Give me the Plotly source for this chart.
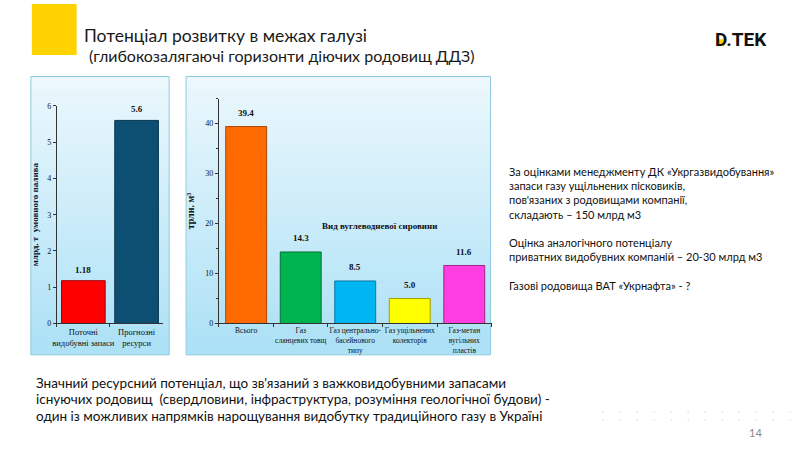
import plotly.graph_objects as go

# left chart: reserves, bn t of fuel equivalent
res_cats = ["Поточні<br>видобувні запаси", "Прогнозні<br>ресурси"]
res_vals = [1.18, 5.6]
res_labels = ["1.18", "5.6"]
res_colors = ["#ff0000", "#0d4f73"]
res_edges = ["#a00000", "#08344c"]

# right chart: gas resources by type, trn m3
gas_cats = ["Всього", "Газ<br>сланцевих товщ", "Газ центрально-<br>басейнового<br>типу",
            "Газ ущільнених<br>колекторів", "Газ-метан<br>вугільних<br>пластів"]
gas_vals = [39.4, 14.3, 8.5, 5.0, 11.6]
gas_labels = ["39.4", "14.3", "8.5", "5.0", "11.6"]
gas_colors = ["#ff6a00", "#00b44f", "#00b6f2", "#ffff00", "#ff3de0"]
gas_edges = ["#a84600", "#00713a", "#0078a0", "#a0a000", "#a0208c"]

notes = [
    "За оцінками менеджменту ДК «Укргазвидобування»",
    "запаси газу ущільнених пісковиків,",
    "пов'язаних з родовищами компанії,",
    "складають – 150 млрд м3",
    "",
    "Оцінка аналогічного потенціалу",
    "приватних видобувних компаній – 20-30 млрд м3",
    "",
    "Газові родовища ВАТ «Укрнафта» - ?",
]
bottom_text = [
    "Значний ресурсний потенціал, що зв'язаний з важковидобувними запасами",
    "існуючих родовищ  (свердловини, інфраструктура, розуміння геологічної будови) -",
    "один із можливих напрямків нарощування видобутку традиційного газу в Україні",
]

W, H = 800, 449
SERIF = "Liberation Serif"
SANS = "Lato"


def px(x):
    return x / W


def py(y):
    return 1 - y / H


fig = go.Figure()
fig.add_trace(go.Bar(x=res_cats, y=res_vals, width=0.82,
                     marker=dict(color=res_colors, line=dict(color=res_edges, width=1)),
                     xaxis="x", yaxis="y", hoverinfo="skip"))
fig.add_trace(go.Bar(x=gas_cats, y=gas_vals, width=0.75,
                     marker=dict(color=gas_colors, line=dict(color=gas_edges, width=1)),
                     xaxis="x2", yaxis="y2", hoverinfo="skip"))

shapes = []
annotations = []


def note(x, y, text, font, xanchor="left"):
    annotations.append(dict(x=px(x), y=py(y), xref="paper", yref="paper", text=text,
                            xanchor=xanchor, yanchor="middle", showarrow=False, font=font))


# panel backgrounds with a vertical gradient
def panel(x0, x1, y0, y1):
    n = 40
    top = (236, 248, 253)
    bot = (172, 225, 246)
    for i in range(n):
        t = i / (n - 1)
        c = tuple(int(top[k] + (bot[k] - top[k]) * t) for k in range(3))
        ya = y0 + (y1 - y0) * i / n
        yb = y0 + (y1 - y0) * (i + 1) / n
        shapes.append(dict(type="rect", xref="paper", yref="paper", layer="below",
                           x0=px(x0), x1=px(x1), y0=py(ya), y1=py(min(yb + 0.6, y1)),
                           fillcolor="rgb(%d,%d,%d)" % c, line=dict(width=0)))
    shapes.append(dict(type="rect", xref="paper", yref="paper", layer="below",
                       x0=px(x0), x1=px(x1), y0=py(y0), y1=py(y1),
                       line=dict(color="#8fcadf", width=1)))


panel(27, 166, 74, 358)
panel(183, 489, 74, 358)

# yellow corner block
shapes.append(dict(type="rect", xref="paper", yref="paper", x0=px(28), x1=px(73),
                   y0=py(0), y1=py(52), fillcolor="#ffd200", line=dict(width=0)))
# logo accent
shapes.append(dict(type="rect", xref="paper", yref="paper", x0=px(716), x1=px(724),
                   y0=py(43), y1=py(36), fillcolor="#ffd200", line=dict(width=0)))

# value labels above bars
for c, v, t in zip(res_cats, res_vals, res_labels):
    annotations.append(dict(x=c, y=v, xref="x", yref="y", text="<b>%s</b>" % t,
                            showarrow=False, yshift=11,
                            font=dict(family=SERIF, size=9, color="#111")))
for c, v, t in zip(gas_cats, gas_vals, gas_labels):
    annotations.append(dict(x=c, y=v, xref="x2", yref="y2", text="<b>%s</b>" % t,
                            showarrow=False, yshift=13.5,
                            font=dict(family=SERIF, size=9, color="#111")))

note(377, 227, "<b>Вид вуглеводневої сировини</b>",
     dict(family=SERIF, size=9, color="#111"), xanchor="center")

# titles
note(78, 32, "Потенціал розвитку в межах галузі", dict(family=SANS, size=17.5, color="#1a1a1a"))
note(79, 53, " (глибокозалягаючі горизонти діючих родовищ ДДЗ)",
     dict(family=SANS, size=16, color="#1a1a1a"))
note(741, 36, "<b>D.TEK</b>", dict(family="Roboto", size=19, color="#111"), xanchor="center")

# right-hand notes
for i, line in enumerate(notes):
    if line:
        note(506, 171 + i * 14.5, line, dict(family=SANS, size=11, color="#111"))

# bottom statement
for i, line in enumerate(bottom_text):
    note(30, 387 + i * 16.5, line, dict(family=SANS, size=13.5, color="#111"))

# decorative chevrons and page number
for j in range(12):
    note(602 + j * 17.1, 420, "›<br>‹", dict(family="DejaVu Sans", size=6, color="#c4c4c4"),
         xanchor="center")
note(755, 437, "14", dict(family=SANS, size=11, color="#888"), xanchor="center")

axis_font = dict(family=SERIF, size=8, color="#111")
fig.update_layout(
    width=W, height=H,
    margin=dict(l=0, r=0, t=0, b=0),
    paper_bgcolor="white", plot_bgcolor="rgba(0,0,0,0)",
    showlegend=False, bargap=0.2,
    shapes=shapes, annotations=annotations,
    xaxis=dict(domain=[px(53), px(160)], anchor="y", showline=True, linecolor="#333",
               ticks="outside", tickson="boundaries", ticklen=3, tickcolor="#333", tickangle=0,
               tickfont=dict(family=SERIF, size=8.5, color="#111")),
    yaxis=dict(domain=[py(326), py(104)], anchor="x", range=[0, 6], dtick=1,
               showline=True, linecolor="#333", ticks="outside", ticklen=3, tickcolor="#333",
               showgrid=False, zeroline=False, tickfont=axis_font,
               title=dict(text="<b>млрд. т  умовного палива</b>", standoff=6,
                          font=dict(family=SERIF, size=9, color="#111"))),
    xaxis2=dict(domain=[px(216), px(490)], anchor="y2", showline=True, linecolor="#333",
                ticks="outside", tickson="boundaries", ticklen=3, tickcolor="#333", tickangle=0,
                tickfont=dict(family=SERIF, size=7.5, color="#111")),
    yaxis2=dict(domain=[py(326), py(96.5)], anchor="x2", range=[0, 45],
                tickvals=[0, 10, 20, 30, 40],
                showline=True, linecolor="#333", ticks="outside", ticklen=3, tickcolor="#333",
                minor=dict(tickvals=[5, 15, 25, 35, 45], ticks="outside", ticklen=2, tickcolor="#333"),
                showgrid=False, zeroline=False, tickfont=axis_font,
                title=dict(text="<b>трлн. м³</b>", standoff=8,
                           font=dict(family=SERIF, size=10, color="#111"))),
)

fig.write_html("out.html", config={"displayModeBar": False},
               post_script="document.body.style.margin='0';")
